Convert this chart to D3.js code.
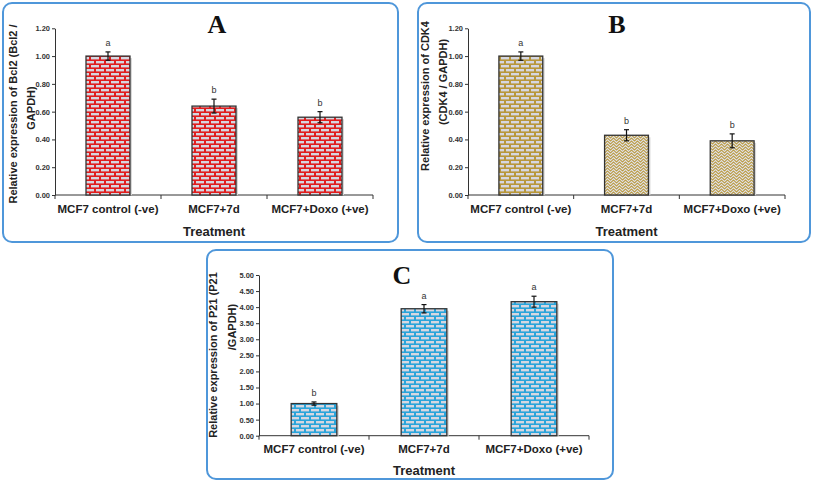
<!DOCTYPE html>
<html><head><meta charset="utf-8">
<script src="https://cdn.jsdelivr.net/npm/d3@7"></script>
<style>body{margin:0;background:#fff}svg{display:block}</style>
</head><body>
<script>
const categories = ["MCF7 control (-ve)", "MCF7+7d", "MCF7+Doxo (+ve)"];
const bcl2Values = [1.00, 0.64, 0.56];
const bcl2Errors = [0.03, 0.05, 0.04];
const bcl2Letters = ["a", "b", "b"];
const cdk4Values = [1.00, 0.43, 0.39];
const cdk4Errors = [0.03, 0.04, 0.05];
const cdk4Letters = ["a", "b", "b"];
const p21Values = [1.00, 3.95, 4.17];
const p21Errors = [0.05, 0.13, 0.17];
const p21Letters = ["b", "a", "a"];
const ticksAB = [0, 0.2, 0.4, 0.6, 0.8, 1.0, 1.2];
const ticksC = [0, 0.5, 1, 1.5, 2, 2.5, 3, 3.5, 4, 4.5, 5];

const svg = d3.select("body").append("svg").attr("width", 813).attr("height", 481);
const defs = svg.append("defs");

function brick(id, mortar) {
  const p = defs.append("pattern").attr("id", id).attr("patternUnits", "userSpaceOnUse")
    .attr("width", 10).attr("height", 8);
  p.append("rect").attr("width", 10).attr("height", 8).attr("fill", mortar);
  const b = "#d6d7e0";
  p.append("rect").attr("x", 1).attr("y", 1).attr("width", 8).attr("height", 2.4).attr("fill", b);
  p.append("rect").attr("x", -4).attr("y", 5).attr("width", 8).attr("height", 2.4).attr("fill", b);
  p.append("rect").attr("x", 6).attr("y", 5).attr("width", 8).attr("height", 2.4).attr("fill", b);
}
brick("brickRed", "#e01e1e");
brick("brickGold", "#b8973a");
brick("brickBlue", "#2aa4da");
{
  const p = defs.append("pattern").attr("id", "zigGold").attr("patternUnits", "userSpaceOnUse")
    .attr("width", 6).attr("height", 6);
  p.append("rect").attr("width", 6).attr("height", 6).attr("fill", "#b8973a");
  p.append("path").attr("d", "M-1,4 L1.5,1.5 L4.5,4.5 L7,2 M-1,7 L1.5,4.5 L4.5,7.5 L7,5 M-1,1 L1.5,-1.5 L4.5,1.5 L7,-1")
    .attr("fill", "none").attr("stroke", "#e2e2e6").attr("stroke-width", 1.1);
}

const panels = [
  {frame: [3, 3, 395, 239], x0: 55, x1: 373, yBot: 195, yTop: 28.3, max: 1.2, ticks: ticksAB,
   values: bcl2Values, errors: bcl2Errors, letters: bcl2Letters, fills: ["brickRed", "brickRed", "brickRed"],
   title: "A", titleX: 217, titleY: 33, ytitle: ["Relative expression of Bcl2 (Bcl2 /", "GAPDH)"],
   ytX: [17, 34.5], ytY: [114, 108], catY: 213, trY: 236},
  {frame: [418, 3, 392, 239], x0: 468, x1: 785, yBot: 195, yTop: 28.3, max: 1.2, ticks: ticksAB,
   values: cdk4Values, errors: cdk4Errors, letters: cdk4Letters, fills: ["brickGold", "zigGold", "zigGold"],
   title: "B", titleX: 617, titleY: 33, ytitle: ["Relative expression of CDK4", "(CDK4 / GAPDH)"],
   ytX: [429, 447], ytY: [96, 82], catY: 213, trY: 236},
  {frame: [207, 250, 406, 229], x0: 259, x1: 589, yBot: 435.7, yTop: 275, max: 5, ticks: ticksC,
   values: p21Values, errors: p21Errors, letters: p21Letters, fills: ["brickBlue", "brickBlue", "brickBlue"],
   title: "C", titleX: 402, titleY: 284, ytitle: ["Relative expression of P21 (P21", "/GAPDH)"],
   ytX: [217, 236], ytY: [355, 327], catY: 453, trY: 475}
];

panels.forEach(P => {
  const g = svg.append("g");
  g.append("rect").attr("x", P.frame[0]).attr("y", P.frame[1]).attr("width", P.frame[2]).attr("height", P.frame[3])
    .attr("rx", 9).attr("fill", "#fff").attr("stroke", "#4f97da").attr("stroke-width", 2);
  const x = d3.scaleBand().domain(categories).range([P.x0, P.x1]).paddingInner(0.585).paddingOuter(0.2925);
  const y = d3.scaleLinear().domain([0, P.max]).range([P.yBot, P.yTop]);

  // axis titles
  P.ytitle.forEach((s, i) => g.append("text")
    .attr("transform", `translate(${P.ytX[i]},${P.ytY[i]}) rotate(-90)`)
    .attr("text-anchor", "middle").attr("font-family", "Liberation Sans, Arial, sans-serif")
    .attr("font-size", 11).attr("font-weight", "bold").attr("fill", "#222").text(s));
  g.append("text").attr("x", (P.x0 + P.x1) / 2).attr("y", P.trY).attr("text-anchor", "middle")
    .attr("font-family", "Liberation Sans, Arial, sans-serif").attr("font-size", 13)
    .attr("font-weight", "bold").attr("fill", "#222").text("Treatment");

  // y axis
  const ya = g.append("g").attr("transform", `translate(${P.x0},0)`)
    .call(d3.axisLeft(y).tickValues(P.ticks).tickFormat(d3.format(".2f")).tickSize(3).tickSizeOuter(0));
  ya.select(".domain").attr("stroke", "#333");
  ya.selectAll(".tick line").attr("stroke", "#333");
  ya.selectAll("text").attr("font-family", "Liberation Sans, Arial, sans-serif").attr("font-size", 7.5)
    .attr("font-weight", "bold").attr("fill", "#333").attr("x", -5);

  // x axis with ticks at category boundaries
  const xa = g.append("g").attr("transform", `translate(0,${P.yBot})`);
  xa.append("line").attr("x1", P.x0).attr("x2", P.x1).attr("stroke", "#333");
  const step = x.step();
  d3.range(categories.length + 1).forEach(i => {
    const xx = P.x0 + i * step;
    xa.append("line").attr("x1", xx).attr("x2", xx).attr("y1", 0).attr("y2", 4).attr("stroke", "#333");
  });
  xa.selectAll("text.cat").data(categories).join("text").attr("class", "cat")
    .attr("x", d => x(d) + x.bandwidth() / 2).attr("y", P.catY - P.yBot)
    .attr("text-anchor", "middle").attr("font-family", "Liberation Sans, Arial, sans-serif")
    .attr("font-size", 11.5).attr("font-weight", "bold").attr("fill", "#222").text(d => d);

  // bars
  const data = categories.map((c, i) => ({c, v: P.values[i], e: P.errors[i], l: P.letters[i], f: P.fills[i]}));
  g.selectAll("rect.shadow").data(data).join("rect").attr("class", "shadow")
    .attr("x", d => x(d.c) + 2).attr("y", d => y(d.v) + 2).attr("width", x.bandwidth())
    .attr("height", d => P.yBot - y(d.v) - 2).attr("fill", "#d8d8d8");
  g.selectAll("rect.bar").data(data).join("rect").attr("class", "bar")
    .attr("x", d => x(d.c)).attr("y", d => y(d.v)).attr("width", x.bandwidth())
    .attr("height", d => P.yBot - y(d.v)).attr("fill", d => `url(#${d.f})`)
    .attr("stroke", "#333").attr("stroke-width", 1.3);

  // error bars and letters
  data.forEach(d => {
    const cx = x(d.c) + x.bandwidth() / 2;
    const t = y(d.v + d.e), b = y(d.v - d.e);
    g.append("line").attr("x1", cx).attr("x2", cx).attr("y1", t).attr("y2", b).attr("stroke", "#111").attr("stroke-width", 1.2);
    [t, b].forEach(yy => g.append("line").attr("x1", cx - 2.5).attr("x2", cx + 2.5).attr("y1", yy).attr("y2", yy)
      .attr("stroke", "#111").attr("stroke-width", 1.2));
    g.append("text").attr("x", cx).attr("y", t - 6).attr("text-anchor", "middle")
      .attr("font-family", "Liberation Sans, Arial, sans-serif").attr("font-size", 9).attr("fill", "#333").text(d.l);
  });

  // panel title
  g.append("text").attr("x", P.titleX).attr("y", P.titleY).attr("text-anchor", "middle")
    .attr("font-family", "Liberation Serif, Times New Roman, serif").attr("font-weight", "bold")
    .attr("font-size", 26).attr("fill", "#111").text(P.title);
});
</script>
</body></html>
